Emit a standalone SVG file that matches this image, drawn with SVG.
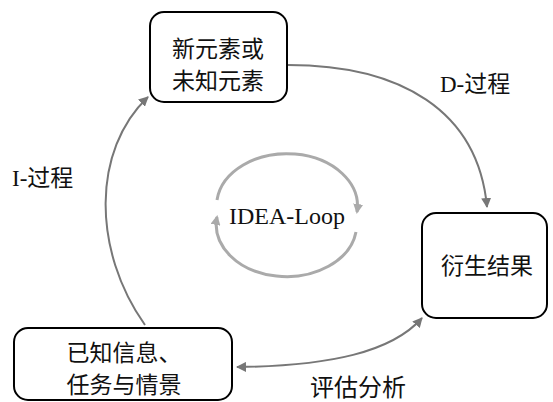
<svg xmlns="http://www.w3.org/2000/svg" width="553" height="402" viewBox="0 0 553 402">
<defs>
<style>
.box{fill:#fff;stroke:#000;stroke-width:2}
.cn{font-family:"Noto Sans CJK SC","Liberation Sans",sans-serif;font-size:23px;fill:#111;text-anchor:middle}
.lbl{font-family:"Liberation Serif","Noto Sans CJK SC",serif;font-size:23px;fill:#111}
.conn{fill:none;stroke:#777;stroke-width:2}
.loop{fill:none;stroke:#aaa;stroke-width:3}
</style>
<marker id="ah" markerWidth="10" markerHeight="10" refX="9" refY="5" orient="auto" markerUnits="userSpaceOnUse">
<path d="M0,0 L10,5 L0,10 Z" fill="#777"/>
</marker>
<marker id="ahs" markerWidth="10" markerHeight="10" refX="1" refY="5" orient="auto" markerUnits="userSpaceOnUse">
<path d="M10,0 L0,5 L10,10 Z" fill="#777"/>
</marker>
<marker id="al" markerWidth="10" markerHeight="10" refX="8" refY="5" orient="auto" markerUnits="userSpaceOnUse">
<path d="M0,0 L10,5 L0,10 Z" fill="#aaa"/>
</marker>
</defs>
<rect width="553" height="402" fill="#fff"/>
<g id="connectors">
<path class="conn" d="M288,65 C400,65 478,110 487,207" marker-end="url(#ah)"/>
<path class="conn" d="M145,325 C92,250 92,150 148,97" marker-end="url(#ah)"/>
<path class="conn" d="M237,367 C330,366 392,352 422,318" marker-start="url(#ahs)" marker-end="url(#ah)"/>
</g>
<g id="idea-loop">
<path class="loop" d="M217,200 A70,52 0 0 1 357,212" marker-end="url(#al)"/>
<path class="loop" d="M356,232 A70,52 0 0 1 217,217" marker-end="url(#al)"/>
<text x="287" y="224" font-family="Liberation Serif,serif" font-size="24" text-anchor="middle" fill="#111">IDEA-Loop</text>
</g>
<g id="node-new">
<rect class="box" x="150" y="12" width="137" height="90" rx="14"/>
<text class="cn" x="218" y="57">新元素或</text>
<text class="cn" x="218" y="89">未知元素</text>
</g>
<g id="node-result">
<rect class="box" x="422" y="213" width="125" height="105" rx="14"/>
<text class="cn" x="487" y="274">衍生结果</text>
</g>
<g id="node-known">
<rect class="box" x="14" y="328" width="218" height="72" rx="14"/>
<text class="cn" x="124" y="361">已知信息、</text>
<text class="cn" x="124" y="393">任务与情景</text>
</g>
<g id="labels">
<text class="lbl" x="440" y="92">D-过程</text>
<text class="lbl" x="12" y="186">I-过程</text>
<text class="cn" x="358" y="396" style="font-size:24px">评估分析</text>
</g>
</svg>
